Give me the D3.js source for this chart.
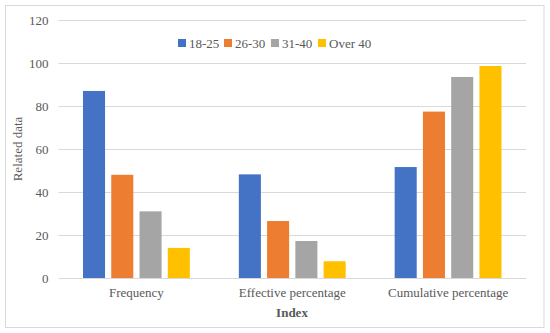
<!DOCTYPE html>
<html><head><meta charset="utf-8">
<script src="https://cdn.jsdelivr.net/npm/d3@7"></script>
<style>body{margin:0;background:#fff} svg text{font-family:'Liberation Serif','Times New Roman',serif !important;}</style>
</head><body><svg id="c" width="550" height="333"></svg>
<script>
const categories = ["Frequency", "Effective percentage", "Cumulative percentage"];
const seriesNames = ["18-25", "26-30", "31-40", "Over 40"];
const s1825 = [87, 48.2, 51.6];
const s2630 = [48, 26.5, 77.4];
const s3140 = [31, 17.2, 93.5];
const sOver40 = [14, 7.8, 98.6];
const yTicks = [0, 20, 40, 60, 80, 100, 120];
const colors = ["#4472C4", "#ED7D31", "#A5A5A5", "#FFC000"];

const series = [s1825, s2630, s3140, sOver40];
const svg = d3.select("#c");
const m = {l: 58.5, r: 24, t: 20, b: 55};

svg.append("rect").attr("x", 5.5).attr("y", 5.5).attr("width", 538.5).attr("height", 322)
  .attr("fill", "#fff").attr("stroke", "#d9d9d9");

const x0 = d3.scaleBand().domain(categories).range([m.l, 526]).padding(0);
const x1 = d3.scaleBand().domain(seriesNames).range([24.5, x0.bandwidth() - 24.5]).paddingInner(0.22);
const y = d3.scaleLinear().domain([0, 120]).range([278, 20]);

const grid = svg.append("g");
grid.selectAll("line").data(yTicks).join("line")
  .attr("x1", m.l).attr("x2", 526)
  .attr("y1", d => Math.round(y(d)) + 0.5).attr("y2", d => Math.round(y(d)) + 0.5)
  .attr("stroke", "#d9d9d9").attr("stroke-width", 1);

const yAxis = svg.append("g").attr("transform", `translate(${m.l},0)`)
  .call(d3.axisLeft(y).tickValues(yTicks).tickSize(0).tickPadding(10));
yAxis.select(".domain").remove();
yAxis.selectAll("text").attr("font-size", 13).attr("fill", "#595959");

const groups = svg.append("g").selectAll("g").data(categories).join("g")
  .attr("transform", d => `translate(${x0(d)},0)`);
groups.selectAll("rect").data((d, i) => series.map((s, j) => ({name: seriesNames[j], v: s[i], c: colors[j]})))
  .join("rect")
  .attr("x", d => x1(d.name)).attr("width", x1.bandwidth())
  .attr("y", d => y(d.v)).attr("height", d => y(0) - y(d.v))
  .attr("fill", d => d.c);

const xAxis = svg.append("g").attr("transform", `translate(0,278)`)
  .call(d3.axisBottom(x0).tickSize(0).tickPadding(10));
xAxis.select(".domain").remove();
xAxis.selectAll("text").attr("font-size", 13).attr("fill", "#595959");

svg.append("text").attr("x", 292).attr("y", 317).attr("text-anchor", "middle")
  .attr("font-size", 13).attr("font-weight", "bold").attr("fill", "#595959")
  .text("Index");
svg.append("text").attr("transform", "translate(22,149) rotate(-90)").attr("text-anchor", "middle")
  .attr("font-size", 13).attr("fill", "#595959")
  .text("Related data");

const legX = [178, 224, 271, 318];
const leg = svg.append("g").selectAll("g").data(seriesNames).join("g")
  .attr("transform", (d, i) => `translate(${legX[i]},43)`);
leg.append("rect").attr("x", 0).attr("y", -4).attr("width", 8).attr("height", 8).attr("fill", (d, i) => colors[i]);
leg.append("text").attr("x", 11).attr("y", 4.5).attr("font-size", 13).attr("fill", "#595959").text(d => d);
</script></body></html>
